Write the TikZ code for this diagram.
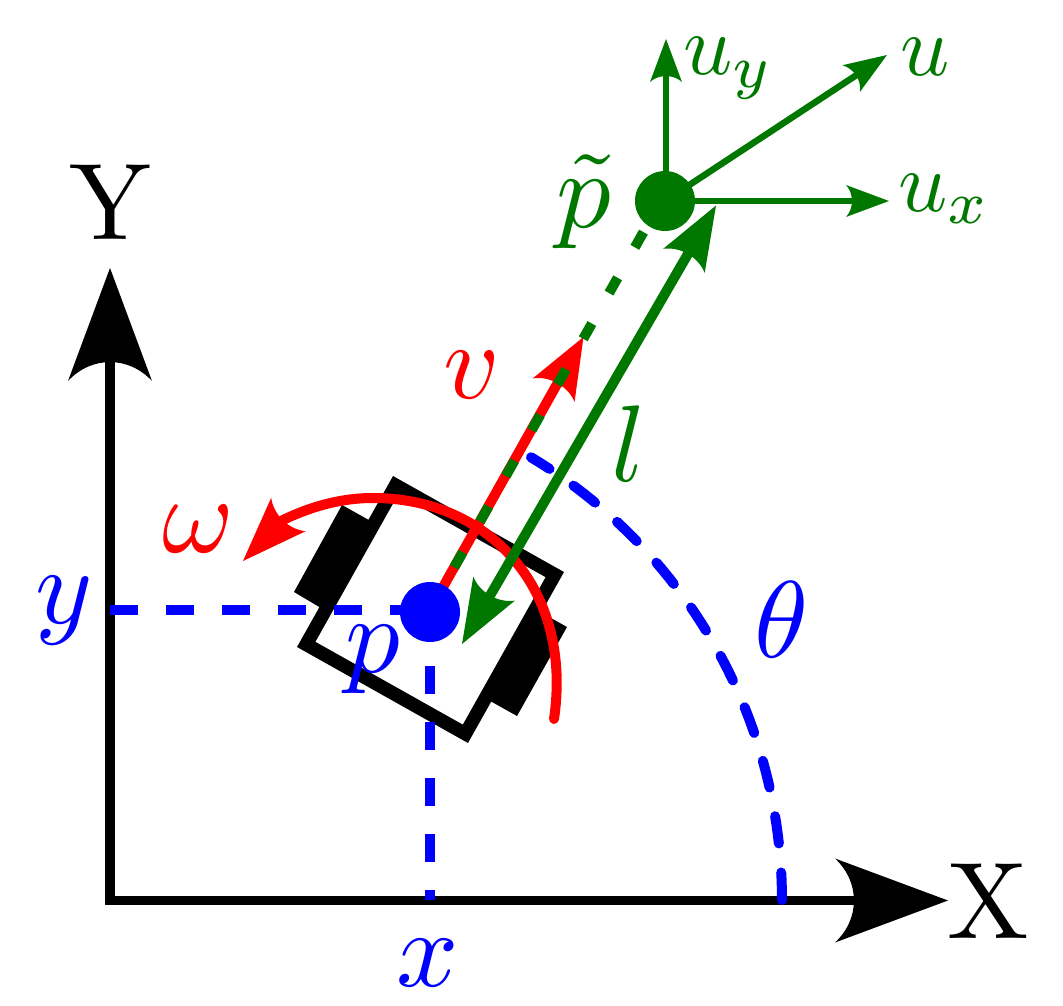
\documentclass[tikz,border=0pt]{standalone}
\usetikzlibrary{arrows.meta}
\definecolor{grn}{rgb}{0,0.47,0}
\pgfdeclarearrow{
  name=ArchHead,
  defaults={length=60pt,width=48pt,inset=8pt},
  setup code={
    \pgfarrowssettipend{0pt}
    \pgfarrowssetbackend{-\pgfarrowlength}
    \pgfmathsetlengthmacro{\archline}{-0.8*\pgfarrowlength}
    \pgfarrowssetlineend{\archline}
    \pgfarrowssetvisualbackend{\archline}
    \pgfarrowssavethe\pgfarrowlength
    \pgfarrowssavethe\pgfarrowwidth
    \pgfarrowssavethe\pgfarrowinset
  },
  parameters={\the\pgfarrowlength,\the\pgfarrowwidth,\the\pgfarrowinset},
  drawing code={
    \pgfpathmoveto{\pgfpoint{0pt}{0pt}}
    \pgfpathlineto{\pgfpoint{-\pgfarrowlength}{0.5*\pgfarrowwidth}}
    \pgfpathcurveto
      {\pgfpoint{-\pgfarrowlength+1.33*\pgfarrowinset}{0.22*\pgfarrowwidth}}
      {\pgfpoint{-\pgfarrowlength+1.33*\pgfarrowinset}{-0.22*\pgfarrowwidth}}
      {\pgfpoint{-\pgfarrowlength}{-0.5*\pgfarrowwidth}}
    \pgfpathclose
    \pgfusepathqfill
  }
}
\tikzset{
  big/.style={scale=10.9,transform shape,inner sep=0pt,anchor=center},
  mid/.style={scale=8.6,transform shape,inner sep=0pt,anchor=center},
  axisline/.style={line width=9.5pt,black,-{ArchHead[length=113pt,width=84pt,inset=19pt]}},
  thinarrow/.style={line width=6.5pt,grn,-{ArchHead[length=43pt,width=32pt,inset=6pt]}},
  longarrow/.style={line width=10pt,grn,{ArchHead[length=64pt,width=48pt,inset=8pt]}-{ArchHead[length=64pt,width=48pt,inset=8pt]}},
  bluedash/.style={line width=10pt,blue,dash pattern=on 28pt off 28pt},
  dot/.style={circle,fill=#1,inner sep=0pt,minimum size=60pt},
  wheel/.style={fill=black},
}
\begin{document}
\begin{tikzpicture}[x=1pt,y=-1pt]
\useasboundingbox (0,0) rectangle (1063,1006);
\coordinate (Xstart) at (105,900.5);
\coordinate (Ystart) at (110,905);
\coordinate (Xtip) at (948,900.5);
\coordinate (Ytip) at (110,268);
\coordinate (ylev) at (110,610);
\coordinate (xlev) at (430,900);
\coordinate (xtop) at (430,610);
\coordinate (vtip) at (583.5,337);
\coordinate (lA) at (716,205.5);
\coordinate (lB) at (462,644);
\coordinate (uytip) at (666,39);
\coordinate (utip) at (887,55);
\coordinate (uxtip) at (889,201);
\coordinate (pc) at (430,612);
\coordinate (qc) at (665,201);
\coordinate (quy) at (666,201);
\coordinate (vstart) at (429,612);
\coordinate (dashend) at (661,201);
% wheels
\fill[wheel] (342,505) -- (376,524) -- (326,611) -- (294,592) -- cycle;
\fill[wheel] (567,627) -- (517,716) -- (483,697) -- (533,608) -- cycle;
% body
\draw[line width=13.5pt,fill=white,miter limit=10] (395.6,485.2) -- (554.8,574.6) -- (465.4,733.8) -- (306.2,644.4) -- cycle;
% axes
\draw[axisline] (Ystart) -- (Ytip);
\draw[axisline] (Xstart) -- (Xtip);
% projections
\draw[bluedash] (ylev) -- (pc |- ylev);
\draw[bluedash] (xtop) -- (xlev);
% theta arc
\draw[line width=10pt,blue,dash pattern=on 27.5pt off 29.2pt,line cap=round] plot[domain=0:59.1,samples=50] ({266+516*cos(\x)},{900-516*sin(\x)});
% omega
\draw[line width=10pt,red,line cap=round,-{ArchHead[length=65pt,width=48pt,inset=8pt]}] (554,719) .. controls (573,590) and (490,498) .. (373,498) .. controls (340,498) and (310,507) .. (283,520) -- (243,561);
% v
\draw[line width=10pt,red,-{ArchHead[length=61pt,width=48pt,inset=8pt]}] (vstart) -- (vtip);
\draw[line width=10pt,grn,dash pattern=on 17.5pt off 35pt,dash phase=1.25pt] (vstart) -- (dashend);
% l
\draw[longarrow] (lA) -- (lB);
% u arrows
\draw[thinarrow] (quy) -- (uytip);
\draw[thinarrow] (qc) -- (utip);
\draw[thinarrow] (qc) -- (uxtip);
% dots
\node[dot=blue] (p) at (pc) {};
\node[dot=grn] (q) at (qc) {};
% labels
\node[big] (lX) at (988.5,901) {X};
\node[big] (lY) at (110,202) {Y};
\node[big,blue] (ly) at (64,611) {$y$};
\node[big,blue] (lx) at (427.5,963) {$x$};
\node[big,blue] (lp) at (373,660) {$p$};
\node[big,blue] (ltheta) at (782,620) {$\theta$};
\node[big,red] (lv) at (471.5,375) {$v$};
\node[big,red] (lw) at (198.5,529) {$\omega$};
\node[big,grn] (ll) at (628.5,444) {$l$};
\node[big,grn] (lq) at (584,202) {$\tilde p$};
\node[mid,grn] (luy) at (728.5,68) {$u_y$};
\node[mid,grn] (lu) at (925,57) {$u$};
\node[mid,grn] (lux) at (945,199) {$u_x$};
\end{tikzpicture}
\end{document}
